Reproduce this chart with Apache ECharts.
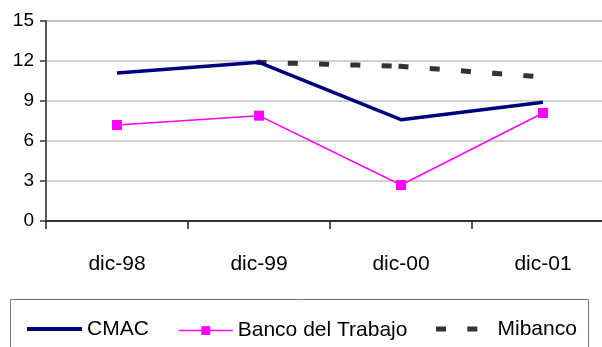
<!DOCTYPE html>
<html><head><meta charset="utf-8">
<script src="https://cdn.jsdelivr.net/npm/echarts@6/dist/echarts.min.js"></script>
<style>html,body{margin:0;padding:0;background:#fff;overflow:hidden}#c{width:640px;height:347px}</style>
</head><body><div id="c"></div>
<script>
const categories = ['dic-98', 'dic-99', 'dic-00', 'dic-01'];
const cmac = [11.1, 11.9, 7.6, 8.9];
const bancoTrabajo = [7.2, 7.9, 2.7, 8.1];
const mibanco = [null, 11.9, 11.6, 10.8];
const yTicks = [0, 3, 6, 9, 12, 15];

const font = "'Liberation Sans', Arial, sans-serif";

// Mibanco drawn as two segments so the dash pattern restarts at each point
const mibSeg1 = mibanco.map((v, i) => (i <= 2 ? v : null));
const mibSeg2 = mibanco.map((v, i) => (i >= 2 ? v : null));
const mibStyle = { color: '#333333', width: 5, type: [5, 26.3], cap: 'square' };

const chart = echarts.init(document.getElementById('c'), null, { renderer: 'canvas' });
const legendText = { fontFamily: font, fontSize: 21, color: '#000' };
chart.setOption({
  animation: false,
  backgroundColor: '#fff',
  grid: { left: 46, top: 21, width: 568, height: 200, show: true, borderColor: '#888', borderWidth: 1, backgroundColor: 'transparent', outerBoundsMode: 'none' },
  xAxis: {
    type: 'category', data: categories, boundaryGap: true,
    axisLine: { lineStyle: { color: '#333', width: 2 } },
    axisTick: { show: true, length: 8, lineStyle: { color: '#222', width: 1.5 } },
    axisLabel: { fontFamily: font, fontSize: 21, color: '#000', margin: 33 },
    splitLine: { show: false }
  },
  yAxis: {
    type: 'value', min: yTicks[0], max: yTicks[yTicks.length - 1], interval: 3,
    axisLine: { show: true, lineStyle: { color: '#333', width: 1.5 } },
    axisTick: { show: true, length: 6, lineStyle: { color: '#333', width: 1.5 } },
    axisLabel: { fontFamily: font, fontSize: 19, color: '#000', margin: 12 },
    splitLine: { show: true, showMaxLine: false, lineStyle: { color: '#c0c0c0', width: 1.5 } }
  },
  graphic: [{
    type: 'rect', left: 8, top: 297, shape: { width: 578, height: 70 },
    style: { fill: 'none', stroke: '#777', lineWidth: 1 }, z: 100
  }],
  legend: [
    { data: ['CMAC'], left: 25, top: 318.5, padding: 0, itemWidth: 55, itemHeight: 14, textStyle: legendText,
      itemStyle: { opacity: 0 }, lineStyle: { width: 4, color: '#000080' } },
    { data: ['Banco del Trabajo'], left: 178, top: 320, padding: 0, itemWidth: 54, itemHeight: 11, textStyle: legendText,
      lineStyle: { width: 1.5 } },
    { data: ['Mibanco'], left: 436, top: 318.5, padding: 0, itemWidth: 54, itemHeight: 14, textStyle: legendText,
      itemStyle: { opacity: 0 }, lineStyle: { width: 5, color: '#333', type: [5, 26.3], cap: 'square' } }
  ],
  series: [
    { name: 'Mibanco', type: 'line', data: mibSeg1, symbol: 'none', lineStyle: mibStyle, itemStyle: { color: '#333' }, z: 2 },
    { name: 'Mibanco', type: 'line', data: mibSeg2, symbol: 'none', lineStyle: mibStyle, itemStyle: { color: '#333' }, z: 2 },
    { name: 'CMAC', type: 'line', data: cmac, symbol: 'none', lineStyle: { color: '#000080', width: 3.5 }, itemStyle: { color: '#000080' }, z: 3 },
    { name: 'Banco del Trabajo', type: 'line', data: bancoTrabajo, symbol: 'rect', symbolSize: 10,
      lineStyle: { color: '#ff00ff', width: 1.5 }, itemStyle: { color: '#ff00ff' }, z: 4 }
  ]
});
</script></body></html>
